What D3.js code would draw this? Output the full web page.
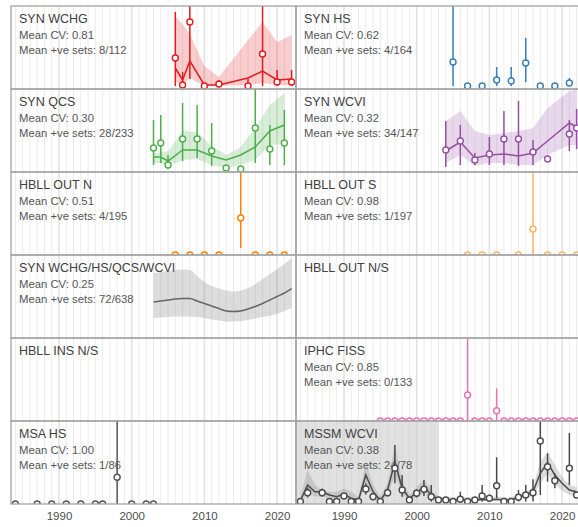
<!DOCTYPE html>
<html><head><meta charset="utf-8">
<script src="https://cdn.jsdelivr.net/npm/d3@7"></script>
<style>
body{margin:0;background:#fff;overflow:hidden}
svg{display:block}
text{font-family:"Liberation Sans",Arial,sans-serif}
</style>
</head><body>
<svg id="chart" width="578" height="527"></svg>
<script>
// ---------- data (relative index units per panel) ----------
const axisTicks = [1990, 2000, 2010, 2020];
const gridYears = d3.range(1984, 2023);

// SYN WCHG
const wchgYears = [2006,2007,2008,2010,2012,2016,2018,2020,2022];
const wchgEst   = [28,1,64,0,2,0,32,4,4];
const wchgLo    = [0,0,7,0,0,0,0,0,0];
const wchgHi    = [74,14,95,0,6,7,100,16,16];
const wchgFit   = [18,6,25,1,1,8,15,6,7];
const wchgFitLo = [4,1,8,0,0,1,3,1,1];
const wchgFitHi = [70,62,52,20,9,46,64,44,51];

// SYN HS
const hsYears = [2005,2007,2009,2011,2013,2015,2017,2019,2021];
const hsEst   = [24,0,0,6,5,23,0,0,3];
const hsLo    = [0,0,0,0,0,4,0,0,0];
const hsHi    = [100,0,0,19,19,48,0,0,8];

// SYN QCS
const qcsYears = [2003,2004,2005,2007,2009,2011,2013,2015,2017,2019,2021];
const qcsEst   = [21,26,4,30,30,18,1,0,41,20,26];
const qcsLo    = [4,6,0,8,11,3,0,0,6,4,4];
const qcsHi    = [49,54,14,66,64,46,1,0,95,44,59];
const qcsFit   = [12,12,8,19,19,13,9,14,22,38,44];
const qcsFitLo = [6,6,3,9,10,4,1,4,9,24,25];
const qcsFitHi = [16,17,18,38,37,23,14,22,41,64,76];

// SYN WCVI
const wcviYears = [2004,2006,2008,2010,2012,2014,2016,2018,2021,2022];
const wcviEst   = [19,28,9,15,30,30,17,10,35,41];
const wcviLo    = [2,4,4,4,4,3,4,10,18,20];
const wcviHi    = [48,44,16,32,58,68,29,10,49,60];
const wcviFit   = [18,27,11,14,15,13,16,28,46,42];
const wcviFitLo = [6,14,3,6,6,4,4,14,24,24];
const wcviFitHi = [48,58,38,34,36,38,41,61,78,80];

// HBLL OUT N
const hbnYears = [2006,2008,2010,2012,2015,2017,2019,2021];
const hbnEst   = [0,0,0,0,37,0,0,0];
const hbnLo    = [0,0,0,0,7,0,0,0];
const hbnHi    = [0,0,0,0,100,0,0,0];

// HBLL OUT S
const hbsYears = [2007,2009,2011,2014,2016,2018,2020,2022];
const hbsEst   = [0,0,0,0,26,0,0,0];
const hbsLo    = [0,0,0,0,0,0,0,0];
const hbsHi    = [0,0,0,0,100,0,0,0];

// SYN combined (model only)
const synYears = d3.range(2003, 2023);
const synFit   = [36,37,38,39,39.5,39.5,37,34.5,32,29.5,27,26.5,27,29,31.5,34.5,38,41.5,45,49.5];
const synFitLo = [20,20.5,21,21.5,21.5,21.5,21,20,18.5,17.5,16.5,16.5,17,18,19.5,21,22,24,27,30];
const synFitHi = [64.7,66,67,68,68.5,68,62,56,52,49.5,47.5,46.5,47.5,50,54,59,64,69,74,80];

// IPHC FISS
const iphcYears = d3.range(1995, 2023);
const iphcEst = [0,0,0,0,0,0,0,0,0,0,0,0,26,0,0,0,10.3,0,0,0,0,0,0,0,0,0,0,0];
const iphcLo  = [0,0,0,0,0,0,0,0,0,0,0,0,0,0,0,0,0,0,0,0,0,0,0,0,0,0,0,0];
const iphcHi  = [0,0,0,0,0,0,0,0,0,0,0,0,100,0,0,0,32.7,0,0,0,0,0,0,0,0,0,0,0];

// MSA HS
const msaYears = [1984,1987,1989,1991,1993,1995,1996,1998,2000,2002,2003];
const msaEst   = [0,0,0,0,0,0,0,26.7,0,0,0];
const msaLo    = [0,0,0,0,0,0,0,0,0,0,0];
const msaHi    = [0,0,0,0,0,0,0,100,0,0,0];

// MSSM WCVI
const mssmYears = [1984,1985,1987,1988,1989,1990,1991,1992,1993,1994,1995,1996,1997,1998,1999,2000,2001,2002,2003,2004,2005,2006,2007,2008,2009,2010,2011,2012,2013,2014,2015,2016,2017,2018,2019,2021,2022];
const mssmEst = [0,8.8,8.8,0,0,5.5,0,0,12.5,4.8,0,8.8,33.2,11.5,1.5,8.2,12.2,4.8,1.5,1.5,0,2.2,0,1.5,5.5,3.2,15.8,0,0,4.2,6.5,8.8,60.5,34.8,20.8,33.2,6.5];
const mssmHi  = [0,14,13,0,0,5.5,0,0,18,4.8,0,13,56.5,26.5,1.5,12,21.5,16.5,1.5,1.5,0,9.8,0,1.5,16.5,3.2,44.2,0,0,11.5,16.5,22.2,95,48.2,28.2,68.5,6.5];
const mssmLo  = [0,4,5,0,0,5.5,0,0,7,4.8,0,5,18.2,4.8,1.5,4,5.5,0,1.5,1.5,0,0,0,1.5,0,3.2,3.2,0,0,0,0,0,6.5,19.8,13.2,16.5,6.5];
const mssmFitYears = d3.range(1984, 2023);
const mssmFit   = [1,16.5,9.8,9.8,6.5,4.8,7.5,3.2,1.5,26.5,9.8,1,11.5,39.8,13.2,3.2,8.8,14.8,6.5,2.2,1.5,1.5,1.5,1.5,1.5,2,1.5,2.2,1.5,1.5,4.8,6.5,9.8,28.2,38.8,26.5,18.2,11.5,9.8];
const mssmFitLo = [0,8,5,5,3,2.5,4,1.5,0.5,15,5,0,6,26,7,1.5,4.5,9,3,1,0.5,0.5,0.5,0.5,0.5,0.8,0.5,0.8,0.5,0.5,2.5,3.5,5.5,18,28,17,11,6.5,5];
const mssmFitHi = [5,31.5,16.5,11.5,9.8,9.8,13.2,9.8,4.8,39.8,16.5,5,18.2,56.5,21.5,6.5,14.8,21.5,11.5,4.8,4.2,4.2,4.2,4.2,4.2,5,4.2,5,4.2,4.2,7.5,9.8,14.8,39.8,49.8,36.5,24.8,16.5,14.8];
const mssmShadeEnd = 2003;

const titles = ["SYN WCHG","SYN HS","SYN QCS","SYN WCVI","HBLL OUT N","HBLL OUT S",
  "SYN WCHG/HS/QCS/WCVI","HBLL OUT N/S","HBLL INS N/S","IPHC FISS","MSA HS","MSSM WCVI"];
const meanCV = ["0.81","0.62","0.30","0.32","0.51","0.98","0.25",null,null,"0.85","1.00","0.38"];
const posSets = ["8/112","4/164","28/233","34/147","4/195","1/197","72/638",null,null,"0/133","1/86","24/78"];

// ---------- panels ----------
const panels = [
  {color:"#e41a1c", pts:[wchgYears,wchgEst,wchgLo,wchgHi], fit:[wchgYears,wchgFit,wchgFitLo,wchgFitHi], dom:[-3,80]},
  {color:"#377eb8", pts:[hsYears,hsEst,hsLo,hsHi], dom:[-3,80]},
  {color:"#4daf4a", pts:[qcsYears,qcsEst,qcsLo,qcsHi], fit:[qcsYears,qcsFit,qcsFitLo,qcsFitHi], dom:[-3,80]},
  {color:"#984ea3", pts:[wcviYears,wcviEst,wcviLo,wcviHi], fit:[wcviYears,wcviFit,wcviFitLo,wcviFitHi], dom:[-3,80]},
  {color:"#ff7f00", pts:[hbnYears,hbnEst,hbnLo,hbnHi], dom:[0,83]},
  {color:"#fdb462", pts:[hbsYears,hbsEst,hbsLo,hbsHi], dom:[0,83]},
  {color:"#666666", ribbon:"#8a8a8a", fit:[synYears,synFit,synFitLo,synFitHi], dom:[0,83], smooth:true},
  {color:"#666666", dom:[0,83]},
  {color:"#666666", dom:[0,83]},
  {color:"#ef6db3", pts:[iphcYears,iphcEst,iphcLo,iphcHi], dom:[0,83]},
  {color:"#555555", pts:[msaYears,msaEst,msaLo,msaHi], dom:[0,83]},
  {color:"#4a4a4a", ribbon:"#8a8a8a", pts:[mssmYears,mssmEst,mssmLo,mssmHi], fit:[mssmFitYears,mssmFit,mssmFitLo,mssmFitHi], dom:[-2.5,80.5], shade:mssmShadeEnd}
];

const L = 11, T = 6, W = 285, H = 83;
const svg = d3.select("#chart");
const x = d3.scaleLinear().domain([1983.4, 2022.6]).range([0, W]);

panels.forEach((p, i) => {
  const r = Math.floor(i / 2), c = i % 2;
  const g = svg.append("g").attr("transform", `translate(${L + c*W},${T + r*H})`);
  const y = d3.scaleLinear().domain(p.dom).range([H, 0]);
  const cid = "clip" + i;
  g.append("clipPath").attr("id", cid).append("rect").attr("width", W).attr("height", H);
  const inner = g.append("g").attr("clip-path", `url(#${cid})`);
  inner.append("rect").attr("width", W).attr("height", H).attr("fill", "#fff");
  inner.selectAll("line.grid").data(gridYears).join("line").attr("class","grid")
    .attr("x1", d => x(d)).attr("x2", d => x(d)).attr("y1", 0).attr("y2", H)
    .attr("stroke", d => d % 10 === 0 ? "#e2e2e2" : "#ececec")
    .attr("stroke-width", d => d % 10 === 0 ? 1.6 : 1);
  if (p.shade) {
    inner.append("rect").attr("x", 0).attr("y", 0)
      .attr("width", x(p.shade)).attr("height", H)
      .attr("fill", "#c8c8c8").attr("fill-opacity", 0.55);
  }
  // text (drawn under data)
  g.append("text").attr("x", 8).attr("y", 16.7).attr("font-size", 12.5)
    .attr("fill", "#404040").text(titles[i]);
  if (meanCV[i] !== null) {
    g.append("text").attr("x", 8).attr("y", 33).attr("font-size", 11.3)
      .attr("fill", "#555").text("Mean CV: " + meanCV[i]);
    g.append("text").attr("x", 8).attr("y", 48).attr("font-size", 11.3)
      .attr("fill", "#555").text("Mean +ve sets: " + posSets[i]);
  }
  const data = g.append("g").attr("clip-path", `url(#${cid})`);
  if (p.fit) {
    const [fy, fm, flo, fhi] = p.fit;
    const rows = fy.map((yr, k) => ({yr, m: fm[k], lo: flo[k], hi: fhi[k]}));
    const curve = p.smooth ? d3.curveMonotoneX : d3.curveLinear;
    data.append("path").datum(rows)
      .attr("d", d3.area().x(d => x(d.yr)).y0(d => y(d.lo)).y1(d => y(d.hi)).curve(curve))
      .attr("fill", p.ribbon || p.color).attr("fill-opacity", p.ribbon ? 0.3 : 0.22);
    data.append("path").datum(rows)
      .attr("d", d3.line().x(d => x(d.yr)).y(d => y(d.m)).curve(curve))
      .attr("fill", "none").attr("stroke", p.color).attr("stroke-width", 1.5);
  }
  if (p.pts) {
    const [py, pe, plo, phi] = p.pts;
    const rows = py.map((yr, k) => ({yr, e: pe[k], lo: plo[k], hi: phi[k]}));
    data.selectAll("line.err").data(rows.filter(d => d.hi > d.lo)).join("line").attr("class","err")
      .attr("x1", d => x(d.yr)).attr("x2", d => x(d.yr))
      .attr("y1", d => y(d.lo)).attr("y2", d => y(d.hi))
      .attr("stroke", p.color).attr("stroke-width", 1.5);
    data.selectAll("circle").data(rows).join("circle")
      .attr("cx", d => x(d.yr)).attr("cy", d => y(d.e)).attr("r", 3)
      .attr("fill", "#fff").attr("stroke", p.color).attr("stroke-width", 1.4);
  }
});

// panel borders
panels.forEach((p, i) => {
  const r = Math.floor(i / 2), c = i % 2;
  svg.append("rect").attr("x", L + c*W).attr("y", T + r*H).attr("width", W).attr("height", H)
    .attr("fill", "none").attr("stroke", "#a3a3a3").attr("stroke-width", 1.3);
});

// x axes
[0, 1].forEach(c => {
  const ax = svg.append("g").attr("transform", `translate(${L + c*W},${T + 6*H})`)
    .call(d3.axisBottom(x).tickValues(axisTicks).tickFormat(d3.format("d")).tickSize(0).tickPadding(8));
  ax.select(".domain").remove();
  ax.selectAll("text").attr("font-size", 11.5).attr("fill", "#4d4d4d")
    .attr("font-family", "'Liberation Sans',Arial,sans-serif");
});
</script>
</body></html>
